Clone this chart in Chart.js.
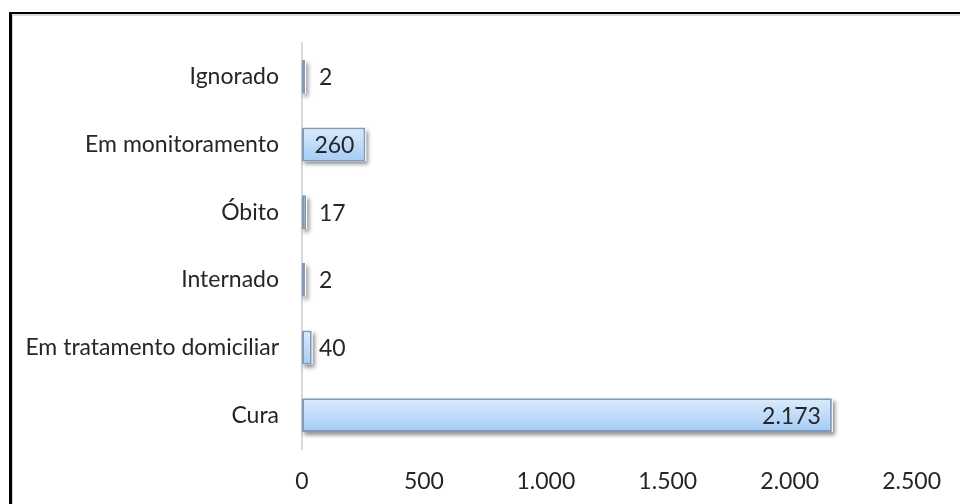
<!DOCTYPE html>
<html lang="pt-BR">
<head>
<meta charset="utf-8">
<title>Evolução dos casos</title>
<script src="https://cdn.jsdelivr.net/npm/chart.js@4.4.1/dist/chart.umd.min.js"></script>
<style>
  html, body { margin: 0; padding: 0; background: #fff; }
  #wrap { position: relative; width: 960px; height: 504px; overflow: hidden; }
  /* moldura preta com filete cinza por dentro */
  #moldura { position: absolute; left: 9px; top: 12px; width: 1000px; height: 600px;
             border-left: 3px solid #000; border-top: 2px solid #000; }
  #moldura::after { content: ''; position: absolute; left: 0; top: 0; right: 0; bottom: 0;
             border-left: 1px solid #d4d4d4; border-top: 2px solid #dcdcdc; }
  #grafico { position: absolute; left: 0; top: 0; }
</style>
</head>
<body>
<div id="wrap">
  <div id="moldura"></div>
  <canvas id="grafico" width="960" height="504"></canvas>
</div>
<script>
// categorias de cima para baixo
const categorias = ['Ignorado', 'Em monitoramento', 'Óbito', 'Internado', 'Em tratamento domiciliar', 'Cura'];
const casos = [2, 260, 17, 2, 40, 2173];
const ticksX = [0, 500, 1000, 1500, 2000, 2500];

const FONTE = 'Lato, "Liberation Sans", sans-serif';
const TAM = 23;
const COR_TEXTO = '#262626';

// formata com ponto de milhar (2173 -> 2.173)
function fmt(v) {
  return String(v).replace(/\B(?=(\d{3})+(?!\d))/g, '.');
}

// gradiente vertical de cada barra, do azul claro para o azul mais forte
function gradienteBarra(ctx) {
  const chart = ctx.chart;
  const escY = chart.scales.y;
  if (ctx.dataIndex === undefined || !escY) return '#bcdcfa';
  const centro = escY.getPixelForValue(ctx.dataIndex);
  const meia = (escY.height / categorias.length) * 0.25;
  if (!isFinite(centro) || !isFinite(meia) || meia <= 0) return '#bcdcfa';
  const g = chart.ctx.createLinearGradient(0, centro - meia, 0, centro + meia);
  g.addColorStop(0, '#dcebfd');
  g.addColorStop(1, '#a3ccf6');
  return g;
}

// sombra das barras + rótulos de valor
const barrasExtras = {
  id: 'barrasExtras',
  beforeDatasetsDraw(chart) {
    const ctx = chart.ctx;
    const meta = chart.getDatasetMeta(0);
    ctx.save();
    ctx.shadowColor = 'rgba(0,0,0,0.45)';
    ctx.shadowBlur = 4;
    ctx.shadowOffsetX = 2;
    ctx.shadowOffsetY = 3;
    ctx.fillStyle = '#fff';
    meta.data.forEach(el => {
      const p = el.getProps(['x', 'y', 'base', 'height'], true);
      ctx.fillRect(p.base, p.y - p.height / 2, p.x - p.base + 1, p.height);
    });
    ctx.restore();
  },
  afterDatasetsDraw(chart) {
    const ctx = chart.ctx;
    const meta = chart.getDatasetMeta(0);
    ctx.save();
    ctx.font = TAM + 'px ' + FONTE;
    ctx.fillStyle = COR_TEXTO;
    ctx.textBaseline = 'middle';
    meta.data.forEach((el, i) => {
      const p = el.getProps(['x', 'y', 'base'], true);
      const txt = fmt(casos[i]);
      const w = ctx.measureText(txt).width;
      if (p.x - p.base > w + 18) {
        // cabe dentro da barra: alinhado ao fim
        ctx.textAlign = 'right';
        ctx.fillText(txt, p.x - 11, p.y + 1);
      } else {
        ctx.textAlign = 'left';
        ctx.fillText(txt, Math.max(p.x + 7, p.base + 17), p.y + 1);
      }
    });
    ctx.restore();
  }
};

new Chart(document.getElementById('grafico'), {
  type: 'bar',
  data: {
    labels: categorias,
    datasets: [{
      data: casos,
      backgroundColor: gradienteBarra,
      borderColor: '#8299b9',
      borderWidth: 2,
      borderSkipped: false,
      minBarLength: 3,
      categoryPercentage: 0.5,
      barPercentage: 1.0
    }]
  },
  options: {
    indexAxis: 'y',
    responsive: false,
    animation: false,
    events: [],
    layout: { padding: { top: 43, right: 46, bottom: 0, left: 0 } },
    plugins: { legend: { display: false }, tooltip: { enabled: false } },
    scales: {
      x: {
        min: 0,
        max: 2500,
        afterBuildTicks: axis => { axis.ticks = ticksX.map(v => ({ value: v })); },
        afterFit: axis => { axis.height = 55; },
        grid: { display: false, drawTicks: false },
        border: { display: false },
        ticks: {
          padding: 19,
          maxRotation: 0,
          color: COR_TEXTO,
          font: { family: FONTE, size: TAM },
          callback: v => fmt(v)
        }
      },
      y: {
        afterFit: axis => { axis.width = 302; },
        grid: { display: false, drawTicks: false },
        border: { display: true, color: '#d9d9d9', width: 2 },
        ticks: {
          padding: 23,
          color: COR_TEXTO,
          font: { family: FONTE, size: TAM }
        }
      }
    }
  },
  plugins: [barrasExtras]
});
</script>
</body>
</html>
